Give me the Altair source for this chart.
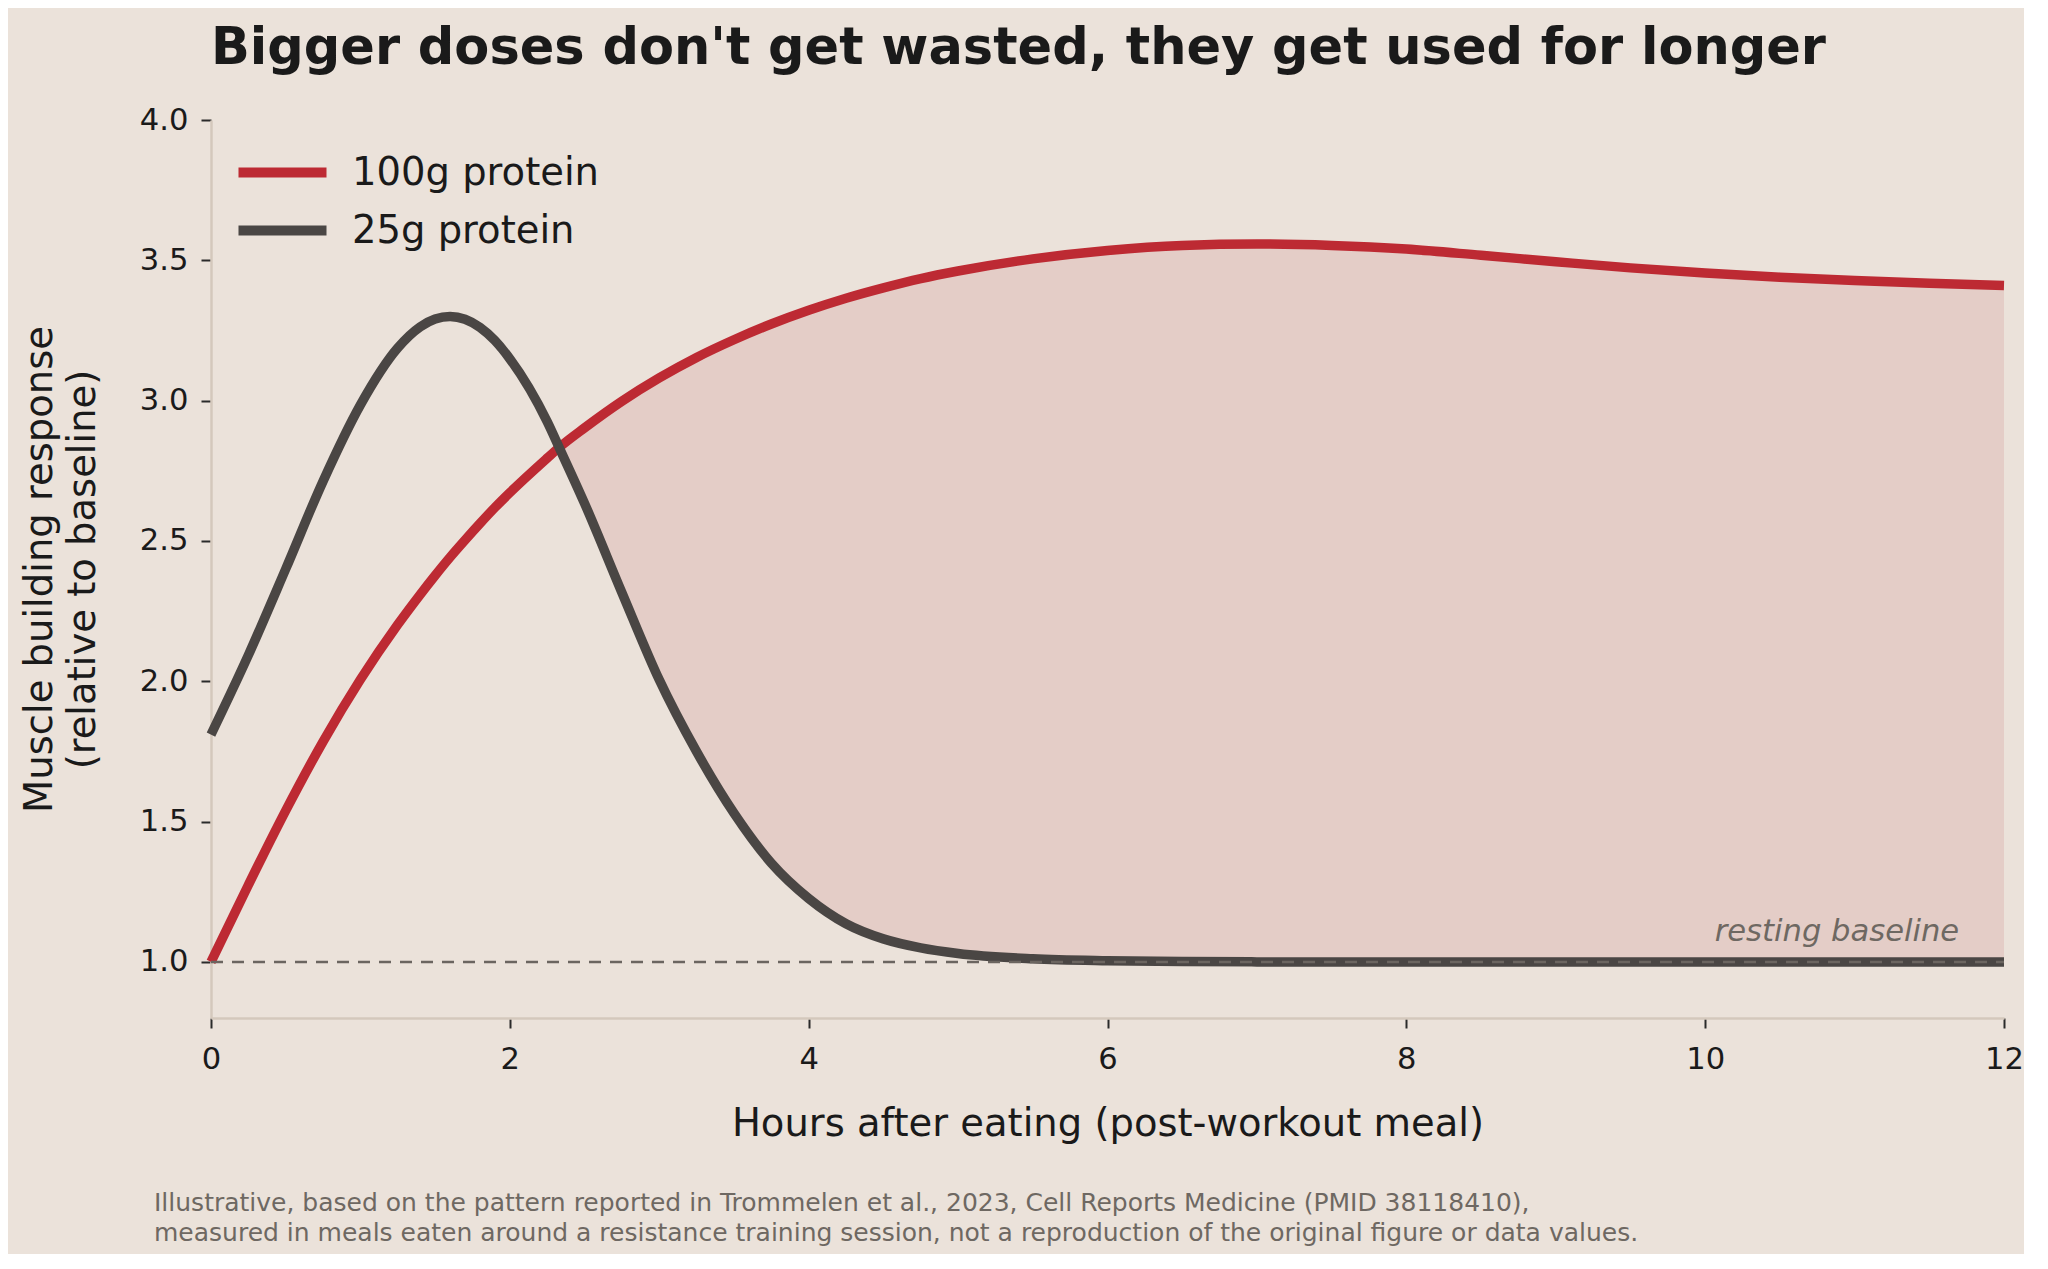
import altair as alt
import pandas as pd

# ---------------- data ----------------
hours = [0.0, 0.25, 0.5, 0.75, 1.0, 1.25, 1.4, 1.5, 1.6, 1.7, 1.8, 1.9, 2.0,
         2.25, 2.33, 2.5, 2.75, 3.0, 3.25, 3.5, 3.75, 4.0, 4.25, 4.5, 4.75,
         5.0, 5.5, 6.0, 6.5, 7.0, 7.5, 8.0, 8.5, 9.0, 9.5, 10.0, 10.5, 11.0,
         11.5, 12.0]
resp_100g = [1.00, 1.274, 1.539, 1.785, 2.006, 2.202, 2.309, 2.377, 2.442,
             2.503, 2.562, 2.619, 2.672, 2.795, 2.833, 2.903, 2.998, 3.081,
             3.154, 3.217, 3.273, 3.322, 3.365, 3.402, 3.435, 3.462, 3.505,
             3.535, 3.553, 3.558, 3.553, 3.54, 3.518, 3.495, 3.473, 3.455,
             3.44, 3.428, 3.418, 3.41]
resp_25g = [1.81, 2.093, 2.40, 2.713, 2.985, 3.188, 3.263, 3.291, 3.30, 3.29,
            3.261, 3.214, 3.149, 2.925, 2.833, 2.634, 2.316, 2.005, 1.749,
            1.53, 1.352, 1.226, 1.136, 1.082, 1.05, 1.03, 1.011, 1.004,
            1.001, 1.0, 1.0, 1.0, 1.0, 1.0, 1.0, 1.0, 1.0, 1.0, 1.0, 1.0]
series_names = ["100g protein", "25g protein"]
series_colors = ["#bd2a33", "#4a4644"]
x_ticks = [0, 2, 4, 6, 8, 10, 12]
y_ticks = [1.0, 1.5, 2.0, 2.5, 3.0, 3.5, 4.0]
baseline_level = [1.0]
baseline_label = ["resting baseline"]
baseline_label_pos = [(11.7, 1.076)]
fill_from_hour = 2.33
title_text = "Bigger doses don't get wasted, they get used for longer"
x_title = "Hours after eating (post-workout meal)"
y_title = ["Muscle building response", "(relative to baseline)"]
caption_lines = [
    "Illustrative, based on the pattern reported in Trommelen et al., 2023, Cell Reports Medicine (PMID 38118410),",
    "measured in meals eaten around a resistance training session, not a reproduction of the original figure or data values.",
]

# ---------------- styling ----------------
BG = "#ebe2da"
INK = "#1a1a1a"
GREY = "#6e6862"
FONT = "DejaVu Sans"
CURVE = "monotone"

df = pd.DataFrame({"hours": hours, "r100": resp_100g, "r25": resp_25g})
base = alt.Chart(df)

x_scale = alt.Scale(domain=[0, 12], nice=False, zero=False)
x_axis = alt.Axis(
    values=x_ticks, format="d", title=x_title, grid=False,
    labelFont=FONT, labelFontSize=30.6, labelColor=INK, labelPadding=16,
    labelFlush=False, labelOverlap=False,
    tickSize=10, tickWidth=2, tickColor="#2a2a2a",
    domainColor="#d4c8bc", domainWidth=2.5,
    titleFont=FONT, titleFontSize=38.5, titleFontWeight="normal",
    titleColor=INK, titlePadding=31,
)
y_scale = alt.Scale(domain=[0.8, 4.0], nice=False, zero=False)
y_axis = alt.Axis(
    values=y_ticks, format=".1f", title=y_title, grid=False,
    labelFont=FONT, labelFontSize=30.6, labelColor=INK, labelPadding=13,
    labelFlush=False, labelOverlap=False,
    tickSize=10, tickWidth=2, tickColor="#2a2a2a",
    domainColor="#d4c8bc", domainWidth=2.5,
    titleFont=FONT, titleFontSize=38.5, titleFontWeight="normal",
    titleColor=INK, titlePadding=37, titleLineHeight=43,
)
x_enc = alt.X("hours:Q", scale=x_scale, axis=x_axis)

area = base.transform_filter(f"datum.hours >= {fill_from_hour}").mark_area(
    color="#e4cdc7", interpolate=CURVE
).encode(
    x=x_enc,
    y=alt.Y("r100:Q", scale=y_scale, axis=y_axis),
    y2=alt.Y2("r25:Q"),
)

lines = base.transform_calculate(
    **{"100g protein": "datum.r100", "25g protein": "datum.r25"}
).transform_fold(
    series_names, as_=["series", "value"]
).mark_line(strokeWidth=9.5, interpolate=CURVE).encode(
    x=x_enc,
    y=alt.Y("value:Q", scale=y_scale, axis=y_axis),
    color=alt.Color(
        "series:N",
        scale=alt.Scale(domain=series_names, range=series_colors),
        legend=alt.Legend(
            title=None, orient="none", legendX=34, legendY=15,
            symbolType="M-1.354,0H1.354", symbolStrokeWidth=10,
            symbolSize=4225, symbolFillColor="transparent",
            labelFont=FONT, labelFontSize=38.5, labelColor=INK,
            labelOffset=32, rowPadding=0, padding=0, labelLimit=0,
        ),
    ),
)

base_df = pd.DataFrame({"level": baseline_level, "x0": [0], "x1": [12]})
rule = alt.Chart(base_df).mark_rule(
    color="#6b6560", strokeWidth=2.5, strokeDash=[12, 9]
).encode(
    x=alt.X("x0:Q", scale=x_scale, axis=x_axis),
    x2="x1:Q",
    y=alt.Y("level:Q", scale=y_scale, axis=y_axis),
)

lab_df = pd.DataFrame({
    "text": baseline_label,
    "hx": [p[0] for p in baseline_label_pos],
    "vy": [p[1] for p in baseline_label_pos],
})
label = alt.Chart(lab_df).mark_text(
    align="right", baseline="alphabetic", font=FONT, fontSize=30.6,
    fontStyle="italic", color=GREY,
).encode(
    x=alt.X("hx:Q", scale=x_scale, axis=x_axis),
    y=alt.Y("vy:Q", scale=y_scale, axis=y_axis),
    text="text:N",
)

cap_df = pd.DataFrame({"caption": ["\n".join(caption_lines)]})
caption = alt.Chart(cap_df).mark_text(
    align="left", baseline="alphabetic", font=FONT, fontSize=25,
    color=GREY, lineBreak="\n", lineHeight=30,
).encode(
    x=alt.value(-57),
    y=alt.value(1091),
    text="caption:N",
)

chart = alt.layer(area, lines, rule, label, caption).properties(
    width=1793,
    height=898,
    padding={"left": 203, "top": 112, "right": 20, "bottom": 236},
    autosize=alt.AutoSizeParams(type="none"),
    background=BG,
    title=alt.TitleParams(
        text=title_text, anchor="start", frame="group", font=FONT,
        fontSize=51, fontWeight="bold", color=INK, offset=30,
    ),
).configure_view(stroke=None)

chart.save("out.html", embed_options={"renderer": "svg", "actions": False})
